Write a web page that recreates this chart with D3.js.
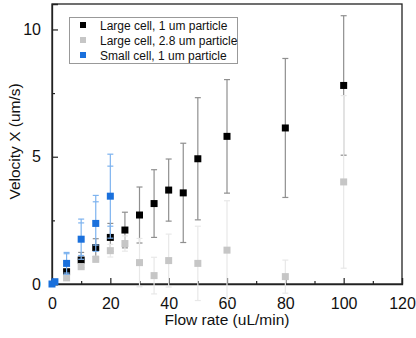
<!DOCTYPE html>
<html>
<head>
<meta charset="utf-8">
<script src="https://cdn.jsdelivr.net/npm/d3@7"></script>
<style>
  body { margin: 0; background: #fff; }
  text { font-family: "Liberation Sans", Arial, sans-serif; }
</style>
</head>
<body>
<div id="wrapper"></div>
<script>
// series names
const seriesNames = ["Large cell, 1 um particle", "Large cell, 2.8 um particle", "Small cell, 1 um particle"];

// large cell, 1 um
const largeX = [5, 10, 15, 20, 25, 30, 35, 40, 45, 50, 60, 80, 100];
const largeY = [0.48, 0.94, 1.43, 1.83, 2.12, 2.71, 3.16, 3.69, 3.58, 4.92, 5.80, 6.13, 7.80];
const largeErr = [0.1, 0.3, 0.35, 0.55, 0.7, 1.1, 1.33, 1.22, 1.95, 2.4, 2.23, 2.73, 2.74];

// large cell, 2.8 um
const bigX = [5, 10, 15, 20, 25, 30, 35, 40, 50, 60, 80, 100];
const bigY = [0.24, 0.68, 0.97, 1.31, 1.59, 0.84, 0.33, 0.92, 0.81, 1.33, 0.29, 4.01];
const bigErr = [0.1, 0.1, 0.12, 0.25, 0.3, 0.95, 0.72, 1.04, 1.46, 1.94, 0.65, 3.39];

// small cell, 1 um
const smallX = [0, 1, 5, 10, 15, 20];
const smallY = [0, 0.09, 0.81, 1.76, 2.38, 3.45];
const smallErr = [0, 0.03, 0.43, 0.79, 1.1, 1.65];
const smallErr2 = [0, 0.03, 0.38, 0.64, 0.85, 1.18];

const xTicks = [0, 20, 40, 60, 80, 100, 120];
const yTicks = [0, 5, 10];

const width = 416, height = 338;
const margin = { top: 4, right: 14, bottom: 54, left: 52 };

const svg = d3.select("#wrapper").append("svg")
  .attr("width", width)
  .attr("height", height);

const x = d3.scaleLinear().domain([0, 120]).range([margin.left, width - margin.right]);
const y = d3.scaleLinear().domain([0, 11]).range([height - margin.bottom, margin.top]);

// frame
svg.append("rect")
  .attr("x", x(0)).attr("y", y(11))
  .attr("width", x(120) - x(0)).attr("height", y(0) - y(11))
  .attr("fill", "none").attr("stroke", "#222").attr("stroke-width", 1.3);

// x axis, ticks inward
const xAxis = svg.append("g")
  .attr("transform", `translate(0,${y(0)})`)
  .call(d3.axisBottom(x).tickValues(xTicks).tickSize(-6).tickPadding(14));
xAxis.select(".domain").attr("stroke", "#222").attr("stroke-width", 1.3);
xAxis.selectAll(".tick line").attr("stroke", "#222").attr("stroke-width", 1.2);
xAxis.selectAll("text").attr("font-size", 16).attr("fill", "#111");
svg.append("g")
  .attr("transform", `translate(0,${y(0)})`)
  .call(d3.axisBottom(x).tickValues(d3.range(10, 120, 20)).tickSize(-3).tickFormat(""))
  .call(g => g.select(".domain").remove())
  .selectAll(".tick line").attr("stroke", "#222").attr("stroke-width", 1.2);

// y axis, ticks inward
const yAxis = svg.append("g")
  .attr("transform", `translate(${x(0)},0)`)
  .call(d3.axisLeft(y).tickValues(yTicks).tickSize(-6).tickPadding(11));
yAxis.select(".domain").attr("stroke", "#222").attr("stroke-width", 1.3);
yAxis.selectAll(".tick line").attr("stroke", "#222").attr("stroke-width", 1.2);
yAxis.selectAll("text").attr("font-size", 16).attr("fill", "#111");
svg.append("g")
  .attr("transform", `translate(${x(0)},0)`)
  .call(d3.axisLeft(y).tickValues([2.5, 7.5]).tickSize(-3).tickFormat(""))
  .call(g => g.select(".domain").remove())
  .selectAll(".tick line").attr("stroke", "#222").attr("stroke-width", 1.2);

// axis titles
svg.append("text")
  .attr("x", x(60)).attr("y", 325)
  .attr("text-anchor", "middle").attr("font-size", 15.5).attr("fill", "#111")
  .text("Flow rate (uL/min)");
svg.append("text")
  .attr("transform", `translate(20,${y(5.6)}) rotate(-90)`)
  .attr("text-anchor", "middle").attr("font-size", 15.5).attr("fill", "#111")
  .text("Velocity X (um/s)");

function drawSeries(xs, ys, errs, color, barColor, extraErrs) {
  const g = svg.append("g");
  const pts = xs.map((d, i) => ({ x: d, y: ys[i], e: errs[i], e2: extraErrs ? extraErrs[i] : null }));
  g.selectAll("line.bar").data(pts).join("line")
    .attr("class", "bar")
    .attr("x1", d => x(d.x)).attr("x2", d => x(d.x))
    .attr("y1", d => y(d.y - d.e)).attr("y2", d => y(d.y + d.e))
    .attr("stroke", barColor).attr("stroke-width", 1.2);
  const caps = [];
  pts.forEach(d => {
    caps.push(d.y + d.e, d.y - d.e);
    if (d.e2 != null) caps.push(d.y + d.e2, d.y - d.e2);
    caps.forEach(v => {});
  });
  const capData = [];
  pts.forEach(d => {
    if (d.e < 0.05) return;
    capData.push({ x: d.x, v: d.y + d.e }, { x: d.x, v: d.y - d.e });
    if (d.e2 != null) capData.push({ x: d.x, v: d.y + d.e2 }, { x: d.x, v: d.y - d.e2 });
  });
  g.selectAll("line.cap").data(capData).join("line")
    .attr("class", "cap")
    .attr("x1", d => x(d.x) - 3).attr("x2", d => x(d.x) + 3)
    .attr("y1", d => y(d.v)).attr("y2", d => y(d.v))
    .attr("stroke", barColor).attr("stroke-width", 1.2);
  g.selectAll("rect").data(pts).join("rect")
    .attr("x", d => x(d.x) - 3.5).attr("y", d => y(d.y) - 3.5)
    .attr("width", 7).attr("height", 7)
    .attr("fill", color);
}

const colors = ["#000000", "#c6c6c6", "#1a70dc"];
drawSeries(largeX, largeY, largeErr, colors[0], "#8f8f8f");
drawSeries(bigX, bigY, bigErr, colors[1], "#e8e8e8");
drawSeries(smallX, smallY, smallErr, colors[2], "#7db3ef", smallErr2);

// legend
const legend = svg.append("g");
legend.append("rect")
  .attr("x", 69.5).attr("y", 17.5).attr("width", 168).attr("height", 46)
  .attr("fill", "#fff").attr("stroke", "#999").attr("stroke-width", 1);
seriesNames.forEach((name, i) => {
  legend.append("rect")
    .attr("x", 80).attr("y", 22 + i * 15)
    .attr("width", 6).attr("height", 6).attr("fill", colors[i]);
  legend.append("text")
    .attr("x", 100).attr("y", 29.5 + i * 15)
    .attr("font-size", 12).attr("fill", "#111")
    .text(name);
});
</script>
</body>
</html>
